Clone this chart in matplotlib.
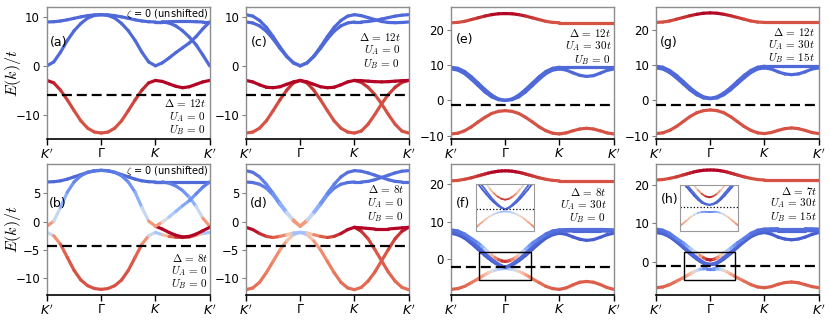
import numpy as np
import matplotlib
matplotlib.use("Agg")
import matplotlib.pyplot as plt
from matplotlib.collections import LineCollection
from matplotlib.patches import Rectangle

# k path K' - Gamma - K - K'
k = np.linspace(0, 3, 25)
kf = np.concatenate([np.linspace(0, 0.5, 5), np.linspace(0.5625, 1.4375, 15), np.linspace(1.5, 3, 13)])
k_edge = k[16:]
k_labels = [r"$K'$", r"$\Gamma$", r"$K$", r"$K'$"]

# ---- (a) zeta = 0, Delta = 12t
a_blue1 = [9.0, 9.05, 9.2, 9.45, 9.75, 10.05, 10.3, 10.45, 10.5, 10.45, 10.3, 10.05, 9.75, 9.45, 9.2, 9.05, 9.0,
           9.0, 9.05, 9.1, 9.1, 9.1, 9.05, 9.0, 9.0]
a_blue2 = [0.0, 0.8, 2.8, 5.2, 7.2, 8.7, 9.8, 10.35, 10.5, 10.35, 9.8, 8.7, 7.2, 5.2, 2.8, 0.8, 0.0,
           0.6, 1.6, 2.7, 3.7, 4.7, 6.0, 7.6, 9.0]
a_blue3 = [9.0, 9.0, 8.8, 8.2, 7.2, 5.9, 4.3, 2.2, 0.0]
a_red = [-3.0, -3.5, -5.0, -7.0, -9.2, -11.3, -12.8, -13.6, -13.8, -13.6, -12.8, -11.3, -9.2, -7.0, -5.0, -3.5, -3.0,
         -3.2, -3.7, -4.2, -4.5, -4.3, -3.8, -3.3, -3.0]
a_red_w = [1.0, 0.98, 0.95, 0.93, 0.91, 0.9, 0.9, 0.9, 0.9, 0.9, 0.9, 0.9, 0.91, 0.93, 0.95, 0.98, 1.0,
           1.0, 1.0, 1.0, 1.0, 1.0, 1.0, 1.0, 1.0]

# ---- (c) shifted, Delta = 12t
c_blue1 = [10.5, 10.2, 9.3, 7.9, 6.0, 3.9, 2.0, 0.6, 0.0, 0.6, 2.0, 3.9, 6.0, 7.9, 9.3, 10.2, 10.5,
           10.3, 9.9, 9.5, 9.1, 8.9, 8.85, 8.9, 9.0]
c_blue2 = [9.0, 8.8, 8.2, 7.1, 5.5, 3.6, 1.9, 0.6, 0.0, 0.6, 1.9, 3.6, 5.5, 7.1, 8.2, 8.8, 9.0,
           9.0, 9.1, 9.3, 9.6, 9.9, 10.2, 10.4, 10.5]
c_red1 = [-3.0, -3.3, -3.9, -4.4, -4.5, -4.3, -3.8, -3.3, -3.0, -3.3, -3.8, -4.3, -4.5, -4.4, -3.9, -3.3, -3.0,
          -3.05, -3.15, -3.25, -3.3, -3.25, -3.15, -3.05, -3.0]
c_red2 = [-13.8, -13.6, -12.8, -11.3, -9.2, -7.0, -5.0, -3.5, -3.0, -3.5, -5.0, -7.0, -9.2, -11.3, -12.8, -13.6, -13.8,
          -13.4, -12.0, -10.0, -7.8, -5.9, -4.4, -3.4, -3.0]
c_red2_w = [0.9, 0.9, 0.9, 0.9, 0.9, 0.92, 0.94, 0.96, 0.97, 0.96, 0.94, 0.92, 0.9, 0.9, 0.9, 0.9, 0.9,
            0.9, 0.9, 0.9, 0.9, 0.92, 0.94, 0.96, 0.97]
c_red3 = [-3.0, -3.4, -4.4, -5.9, -7.8, -10.0, -12.0, -13.4, -13.8]
c_red3_w = [0.97, 0.96, 0.94, 0.92, 0.9, 0.9, 0.9, 0.9, 0.9]

# ---- (e) Delta = 12t, U_A = 30t
top_w25 = [0.9, 0.9, 0.91, 0.93, 0.95, 0.97, 0.99, 1.0, 1.0, 1.0, 0.99, 0.97, 0.95, 0.93, 0.91, 0.9, 0.9,
           0.9, 0.9, 0.9, 0.9, 0.9, 0.9, 0.9, 0.9]
e_top = [22.0, 22.1, 22.4, 22.9, 23.4, 23.9, 24.3, 24.55, 24.6, 24.55, 24.3, 23.9, 23.4, 22.9, 22.4, 22.1, 22.0,
         22.0, 22.0, 22.0, 22.0, 22.0, 22.0, 22.0, 22.0]
e_blue1 = [9.4, 9.1, 8.2, 6.7, 4.9, 3.1, 1.5, 0.4, 0.0, 0.4, 1.5, 3.1, 4.9, 6.7, 8.2, 9.1, 9.4,
           9.4, 9.4, 9.4, 9.4, 9.4, 9.4, 9.4, 9.4]
e_blue2 = [8.9, 8.6, 7.6, 6.0, 4.2, 2.4, 1.0, 0.2, 0.0, 0.2, 1.0, 2.4, 4.2, 6.0, 7.6, 8.6, 8.9,
           8.6, 7.8, 7.1, 6.8, 7.0, 7.7, 8.5, 8.9]
e_red = [-9.5, -9.3, -8.6, -7.5, -6.1, -4.8, -3.7, -3.1, -2.9, -3.1, -3.7, -4.8, -6.1, -7.5, -8.6, -9.3, -9.5,
         -9.2, -8.6, -8.1, -7.9, -8.1, -8.6, -9.2, -9.5]

# ---- (g) Delta = 12t, U_A = 30t, U_B = 15t
g_top = [22.1, 22.2, 22.5, 23.0, 23.5, 24.0, 24.4, 24.7, 24.8, 24.7, 24.4, 24.0, 23.5, 23.0, 22.5, 22.2, 22.1,
         22.1, 22.1, 22.1, 22.1, 22.1, 22.1, 22.1, 22.1]
g_blue1 = [9.7, 9.4, 8.5, 7.1, 5.4, 3.6, 2.1, 1.0, 0.6, 1.0, 2.1, 3.6, 5.4, 7.1, 8.5, 9.4, 9.7,
           9.7, 9.7, 9.7, 9.7, 9.7, 9.7, 9.7, 9.7]
g_blue2 = [9.2, 8.9, 7.9, 6.4, 4.7, 3.0, 1.6, 0.7, 0.5, 0.7, 1.6, 3.0, 4.7, 6.4, 7.9, 8.9, 9.2,
           8.9, 8.1, 7.5, 7.3, 7.5, 8.1, 8.9, 9.2]
g_red = [-9.4, -9.2, -8.5, -7.4, -6.0, -4.6, -3.5, -2.9, -2.7, -2.9, -3.5, -4.6, -6.0, -7.4, -8.5, -9.2, -9.4,
         -9.1, -8.5, -8.0, -7.8, -8.0, -8.5, -9.1, -9.4]

# ---- (b) zeta = 0, Delta = 8t
b_blue1 = [7.0, 7.05, 7.2, 7.5, 7.9, 8.3, 8.7, 8.95, 9.05, 8.95, 8.7, 8.3, 7.9, 7.5, 7.2, 7.05, 7.0,
           7.0, 7.0, 7.0, 7.0, 7.0, 7.0, 7.0, 7.0]
b_blue3 = [7.0, 7.0, 6.8, 6.3, 5.5, 4.3, 2.7, 0.6, -0.8]
b_blue3_w = [0.08, 0.08, 0.1, 0.12, 0.15, 0.2, 0.3, 0.55, 0.95]
b_up = [-0.8, 0.1, 2.5, 5.2, 7.0, 8.1, 8.7, 9.0, 9.05, 9.0, 8.7, 8.1, 7.0, 5.2, 2.5, 0.1, -0.8,
        -0.1, 0.8, 1.8, 2.8, 3.7, 4.9, 6.1, 7.0]
b_up_w = [0.95, 0.55, 0.3, 0.2, 0.15, 0.12, 0.1, 0.1, 0.1, 0.1, 0.1, 0.12, 0.15, 0.2, 0.3, 0.55, 0.95,
          0.55, 0.4, 0.3, 0.25, 0.2, 0.15, 0.12, 0.1]
b_low = [-1.9, -2.5, -4.0, -6.3, -8.6, -10.3, -11.3, -11.8, -11.95, -11.8, -11.3, -10.3, -8.6, -6.3, -4.0, -2.5, -1.9,
         -2.3, -2.6, -2.75, -2.8, -2.7, -2.4, -2.1, -1.9]
b_low_w = [0.15, 0.7, 0.85, 0.88, 0.9, 0.9, 0.9, 0.9, 0.9, 0.9, 0.9, 0.9, 0.9, 0.88, 0.85, 0.7, 0.15,
           0.5, 0.8, 0.9, 0.95, 0.9, 0.8, 0.5, 0.15]
b_red2 = [-0.8, -1.3, -1.9, -2.4, -2.7, -2.6, -2.2, -1.6, -1.0]

# ---- (d) shifted, Delta = 8t
d_v1 = [9.0, 8.7, 7.9, 6.6, 5.0, 3.3, 1.7, 0.3, -0.8, 0.3, 1.7, 3.3, 5.0, 6.6, 7.9, 8.7, 9.0,
        8.9, 8.6, 8.2, 7.8, 7.4, 7.1, 7.0, 7.0]
d_v2 = [7.0, 6.9, 6.6, 5.9, 4.7, 3.0, 1.5, 0.1, -0.8, 0.1, 1.5, 3.0, 4.7, 5.9, 6.6, 6.9, 7.0,
        7.0, 7.1, 7.4, 7.8, 8.2, 8.6, 8.9, 9.0]
d_v_w = [0.08, 0.08, 0.1, 0.12, 0.15, 0.2, 0.3, 0.55, 0.95, 0.55, 0.3, 0.2, 0.15, 0.12, 0.1, 0.08, 0.08,
         0.08, 0.08, 0.08, 0.08, 0.08, 0.08, 0.08, 0.08]
d_wave = [-1.0, -1.4, -2.1, -2.6, -2.8, -2.6, -2.3, -2.0, -1.9, -2.0, -2.3, -2.6, -2.8, -2.6, -2.1, -1.4, -1.0,
          -1.1, -1.2, -1.3, -1.3, -1.3, -1.2, -1.1, -1.0]
d_wave_w = [1.0, 1.0, 0.97, 0.93, 0.9, 0.85, 0.75, 0.5, 0.12, 0.5, 0.75, 0.85, 0.9, 0.93, 0.97, 1.0, 1.0,
            1.0, 1.0, 1.0, 1.0, 1.0, 1.0, 1.0, 1.0]
d_arm1 = [-12.0, -11.7, -10.7, -9.0, -7.0, -5.0, -3.4, -2.3, -1.9, -2.3, -3.4, -5.0, -7.0, -9.0, -10.7, -11.7, -12.0,
          -11.6, -10.5, -8.9, -6.9, -4.9, -3.0, -1.7, -1.0]
d_arm1_w = [0.85, 0.85, 0.84, 0.82, 0.8, 0.77, 0.72, 0.55, 0.12, 0.55, 0.72, 0.77, 0.8, 0.82, 0.84, 0.85, 0.85,
            0.85, 0.86, 0.87, 0.88, 0.9, 0.93, 0.96, 1.0]
d_arm2 = [-1.0, -1.7, -3.0, -4.9, -6.9, -8.9, -10.5, -11.6, -12.0]
d_arm2_w = [1.0, 0.96, 0.93, 0.9, 0.88, 0.87, 0.86, 0.85, 0.85]

# ---- (f) Delta = 8t, U_A = 30t  (finer k grid near Gamma)
top_w33 = [0.9, 0.9, 0.91, 0.93, 0.95, 0.96, 0.97, 0.98, 0.99, 1.0, 1.0, 1.0, 1.0,
           1.0, 1.0, 1.0, 0.99, 0.98, 0.97, 0.96, 0.95, 0.93, 0.91, 0.9, 0.9,
           0.9, 0.9, 0.9, 0.9, 0.9, 0.9, 0.9, 0.9]
f_top = [20.8, 20.9, 21.2, 21.6, 22.1, 22.35, 22.6, 22.85, 23.05, 23.2, 23.35, 23.42, 23.45,
         23.42, 23.35, 23.2, 23.05, 22.85, 22.6, 22.35, 22.1, 21.6, 21.2, 20.9, 20.8,
         20.8, 20.8, 20.8, 20.8, 20.8, 20.8, 20.8, 20.8]
f_v1 = [7.8, 7.5, 6.7, 5.5, 4.3, 3.5, 2.7, 1.9, 1.1, 0.4, -0.1, -0.45, -0.6,
        -0.45, -0.1, 0.4, 1.1, 1.9, 2.7, 3.5, 4.3, 5.5, 6.7, 7.5, 7.8,
        7.85, 7.9, 7.9, 7.9, 7.9, 7.9, 7.85, 7.8]
f_v1_w = [0.08, 0.08, 0.1, 0.12, 0.15, 0.2, 0.3, 0.45, 0.6, 0.75, 0.85, 0.92, 0.96,
          0.92, 0.85, 0.75, 0.6, 0.45, 0.3, 0.2, 0.15, 0.12, 0.1, 0.08, 0.08,
          0.08, 0.08, 0.08, 0.08, 0.08, 0.08, 0.08, 0.08]
f_v2 = [6.9, 6.5, 5.6, 4.2, 2.6, 1.8, 1.0, 0.3, -0.4, -1.0, -1.5, -1.9, -2.1,
        -1.9, -1.5, -1.0, -0.4, 0.3, 1.0, 1.8, 2.6, 4.2, 5.6, 6.5, 6.9,
        6.6, 5.9, 5.3, 5.0, 5.2, 5.8, 6.5, 6.9]
f_v3 = [7.4, 7.0, 6.2, 4.9, 3.3, 2.5, 1.6, 0.8, 0.0, -0.7, -1.3, -1.8, -2.1,
        -1.8, -1.3, -0.7, 0.0, 0.8, 1.6, 2.5, 3.3, 4.9, 6.2, 7.0, 7.4,
        7.45, 7.5, 7.5, 7.5, 7.5, 7.5, 7.45, 7.4]
f_low = [-8.0, -7.8, -7.2, -6.2, -5.2, -4.6, -4.1, -3.6, -3.2, -2.9, -2.65, -2.5, -2.45,
         -2.5, -2.65, -2.9, -3.2, -3.6, -4.1, -4.6, -5.2, -6.2, -7.2, -7.8, -8.0,
         -7.6, -6.8, -6.1, -5.9, -6.1, -6.7, -7.5, -8.0]
f_low_w = [0.88, 0.88, 0.86, 0.84, 0.8, 0.76, 0.7, 0.62, 0.55, 0.45, 0.38, 0.32, 0.3,
           0.32, 0.38, 0.45, 0.55, 0.62, 0.7, 0.76, 0.8, 0.84, 0.86, 0.88, 0.88,
           0.88, 0.88, 0.88, 0.88, 0.88, 0.88, 0.88, 0.88]

# ---- (h) Delta = 7t, U_A = 30t, U_B = 15t
h_top = [21.3, 21.4, 21.7, 22.1, 22.6, 22.85, 23.1, 23.35, 23.55, 23.7, 23.82, 23.88, 23.9,
         23.88, 23.82, 23.7, 23.55, 23.35, 23.1, 22.85, 22.6, 22.1, 21.7, 21.4, 21.3,
         21.3, 21.3, 21.3, 21.3, 21.3, 21.3, 21.3, 21.3]
h_v1 = [8.5, 8.2, 7.4, 6.1, 4.9, 4.2, 3.5, 2.9, 2.3, 1.6, 1.0, 0.6, 0.45,
        0.6, 1.0, 1.6, 2.3, 2.9, 3.5, 4.2, 4.9, 6.1, 7.4, 8.2, 8.5,
        8.55, 8.6, 8.6, 8.6, 8.6, 8.6, 8.55, 8.5]
h_v1_w = [0.08, 0.08, 0.1, 0.12, 0.15, 0.2, 0.28, 0.38, 0.5, 0.68, 0.85, 0.95, 1.0,
          0.95, 0.85, 0.68, 0.5, 0.38, 0.28, 0.2, 0.15, 0.12, 0.1, 0.08, 0.08,
          0.08, 0.08, 0.08, 0.08, 0.08, 0.08, 0.08, 0.08]
h_v2 = [7.6, 7.3, 6.5, 5.2, 3.7, 2.9, 2.1, 1.4, 0.7, 0.1, -0.4, -0.65, -0.75,
        -0.65, -0.4, 0.1, 0.7, 1.4, 2.1, 2.9, 3.7, 5.2, 6.5, 7.3, 7.6,
        7.2, 6.4, 5.9, 5.7, 5.9, 6.4, 7.1, 7.6]
h_v3 = [8.0, 7.7, 6.9, 5.6, 4.1, 3.3, 2.5, 1.8, 1.1, 0.4, -0.2, -0.55, -0.7,
        -0.55, -0.2, 0.4, 1.1, 1.8, 2.5, 3.3, 4.1, 5.6, 6.9, 7.7, 8.0,
        8.05, 8.1, 8.1, 8.1, 8.1, 8.1, 8.05, 8.0]
h_low = [-6.8, -6.6, -6.0, -5.1, -4.2, -3.7, -3.2, -2.7, -2.3, -2.0, -1.85, -1.8, -1.8,
         -1.8, -1.85, -2.0, -2.3, -2.7, -3.2, -3.7, -4.2, -5.1, -6.0, -6.6, -6.8,
         -6.5, -5.9, -5.45, -5.3, -5.5, -6.0, -6.5, -6.8]
h_low_w = [0.88, 0.88, 0.86, 0.84, 0.8, 0.75, 0.68, 0.6, 0.5, 0.35, 0.22, 0.15, 0.12,
           0.15, 0.22, 0.35, 0.5, 0.6, 0.68, 0.75, 0.8, 0.84, 0.86, 0.88, 0.88,
           0.88, 0.88, 0.88, 0.88, 0.88, 0.88, 0.88, 0.88]

BLUE = 0.07
RED = 0.9
DARK = 1.0

cmap = plt.get_cmap("coolwarm")


def add_band(ax, x, y, w, lw=2.3):
    y = np.asarray(y, float)
    w = np.broadcast_to(np.asarray(w, float), y.shape)
    pts = np.column_stack([x, y])
    segs = np.stack([pts[:-1], pts[1:]], axis=1)
    lc = LineCollection(segs, colors=cmap(0.5 * (w[:-1] + w[1:])), linewidths=lw,
                        capstyle="round", joinstyle="round", zorder=2)
    ax.add_collection(lc)


def setup(ax, ylim, yticks, fermi):
    ax.set_xlim(0, 3)
    ax.set_ylim(*ylim)
    ax.set_xticks([0, 1, 2, 3])
    ax.set_xticklabels(k_labels, fontsize=9)
    ax.set_yticks(yticks)
    ax.tick_params(axis="y", labelsize=8.5, length=3, width=0.8, color="0.5", pad=2)
    ax.tick_params(axis="x", length=4, width=1, color="k", pad=2)
    for s in ["left", "top", "right"]:
        ax.spines[s].set_color("0.55")
        ax.spines[s].set_linewidth(1.0)
    ax.spines["bottom"].set_color("k")
    ax.spines["bottom"].set_linewidth(1.2)
    ax.axhline(fermi, color="k", ls=(0, (4.5, 2.2)), lw=1.6, zorder=3)


def params(ax, lines, ys, x):
    for s, y in zip(lines, ys):
        ax.text(x, y, s, transform=ax.transAxes, ha="right", va="center",
                fontsize=8, math_fontfamily="cm", zorder=5)


fig = plt.figure(figsize=(8.3, 3.2), dpi=100)
W, H1, H2 = 0.196, 0.4125, 0.41
xs = [0.0566, 0.2964, 0.5434, 0.7904]
ax_a = fig.add_axes([xs[0], 0.566, W, H1])
ax_c = fig.add_axes([xs[1], 0.566, W, H1])
ax_e = fig.add_axes([xs[2], 0.566, W, H1])
ax_g = fig.add_axes([xs[3], 0.566, W, H1])
ax_b = fig.add_axes([xs[0], 0.078, W, H2])
ax_d = fig.add_axes([xs[1], 0.078, W, H2])
ax_f = fig.add_axes([xs[2], 0.078, W, H2])
ax_h = fig.add_axes([xs[3], 0.078, W, H2])

bands = {
    ax_a: [(k, a_blue1, BLUE), (k, a_blue2, BLUE), (k_edge, a_blue3, BLUE), (k, a_red, a_red_w)],
    ax_c: [(k, c_blue1, BLUE), (k, c_blue2, BLUE), (k, c_red2, c_red2_w), (k_edge, c_red3, c_red3_w),
           (k, c_red1, DARK)],
    ax_e: [(k, e_top, top_w25), (k, e_blue1, BLUE), (k, e_blue2, BLUE), (k, e_red, RED)],
    ax_g: [(k, g_top, top_w25), (k, g_blue1, BLUE), (k, g_blue2, BLUE), (k, g_red, RED)],
    ax_b: [(k, b_blue1, BLUE), (k_edge, b_blue3, b_blue3_w), (k, b_low, b_low_w),
           (k_edge, b_red2, DARK), (k, b_up, b_up_w)],
    ax_d: [(k, d_arm1, d_arm1_w), (k_edge, d_arm2, d_arm2_w), (k, d_wave, d_wave_w),
           (k, d_v2, d_v_w), (k, d_v1, d_v_w)],
    ax_f: [(kf, f_top, top_w33), (kf, f_low, f_low_w), (kf, f_v2, 0.04), (kf, f_v3, BLUE), (kf, f_v1, f_v1_w)],
    ax_h: [(kf, h_top, top_w33), (kf, h_low, h_low_w), (kf, h_v2, 0.04), (kf, h_v3, BLUE), (kf, h_v1, h_v1_w)],
}
for ax, bl in bands.items():
    for x, y, w in bl:
        add_band(ax, x, y, w)

setup(ax_a, (-15, 12.1), [-10, 0, 10], -6.0)
setup(ax_c, (-15, 12.1), [-10, 0, 10], -6.0)
setup(ax_e, (-10.9, 26.5), [-10, 0, 10, 20], -1.4)
setup(ax_g, (-10.9, 26.5), [-10, 0, 10, 20], -1.25)
setup(ax_b, (-12.95, 10.2), [-10, -5, 0, 5], -4.3)
setup(ax_d, (-12.95, 10.2), [-10, -5, 0, 5], -4.3)
setup(ax_f, (-9.5, 25.3), [0, 10, 20], -2.1)
setup(ax_h, (-8.7, 25.5), [0, 10, 20], -1.05)

for ax in (ax_a, ax_b):
    ax.set_ylabel(r"$E(k)/t$", fontsize=11.5, math_fontfamily="cm")
    ax.yaxis.set_label_coords(-0.148, 0.5)
    ax.text(0.995, 0.945, r"$\zeta$ = 0 (unshifted)", transform=ax.transAxes, ha="right", va="center",
            fontsize=7, math_fontfamily="cm", zorder=5)

for ax, lab, x, y in [(ax_a, "(a)", 0.02, 0.727), (ax_c, "(c)", 0.03, 0.727), (ax_e, "(e)", 0.03, 0.75),
                      (ax_g, "(g)", 0.025, 0.727), (ax_b, "(b)", 0.012, 0.70), (ax_d, "(d)", 0.025, 0.70),
                      (ax_f, "(f)", 0.03, 0.70), (ax_h, "(h)", 0.03, 0.725)]:
    ax.text(x, y, lab, transform=ax.transAxes, ha="left", va="center", fontsize=9)

params(ax_a, [r"$\Delta\,=\,12t$", r"$U_A\,=\,0$", r"$U_B\,=\,0$"], [0.275, 0.167, 0.068], 0.975)
params(ax_c, [r"$\Delta\,=\,12t$", r"$U_A\,=\,0$", r"$U_B\,=\,0$"], [0.775, 0.674, 0.568], 0.95)
params(ax_e, [r"$\Delta\,=\,12t$", r"$U_A\,=\,30t$", r"$U_B\,=\,0$"], [0.80, 0.70, 0.60], 0.985)
params(ax_g, [r"$\Delta\,=\,12t$", r"$U_A\,=\,30t$", r"$U_B\,=\,15t$"], [0.813, 0.712, 0.611], 0.975)
params(ax_b, [r"$\Delta\,=\,8t$", r"$U_A\,=\,0$", r"$U_B\,=\,0$"], [0.285, 0.185, 0.084], 0.99)
params(ax_d, [r"$\Delta\,=\,8t$", r"$U_A\,=\,0$", r"$U_B\,=\,0$"], [0.807, 0.70, 0.598], 0.97)
params(ax_f, [r"$\Delta\,=\,8t$", r"$U_A\,=\,30t$", r"$U_B\,=\,0$"], [0.789, 0.687, 0.585], 0.955)
params(ax_h, [r"$\Delta\,=\,7t$", r"$U_A\,=\,30t$", r"$U_B\,=\,15t$"], [0.796, 0.70, 0.598], 0.99)

# zoom insets around Gamma
for ax, box, bounds, fermi in [(ax_f, (0.52, -5.5, 0.95, 7.4), [0.153, 0.489, 0.356, 0.359], -2.1),
                               (ax_h, (0.52, -4.8, 0.94, 7.2), [0.147, 0.489, 0.354, 0.351], -1.05)]:
    x0, y0, bw, bh = box
    ax.add_patch(Rectangle((x0, y0), bw, bh, fill=False, ec="k", lw=1.0, zorder=4))
    ins = ax.inset_axes(bounds)
    for x, y, w in bands[ax]:
        add_band(ins, x, y, w, lw=1.3)
    ins.axhline(fermi, color="k", ls=":", lw=0.9)
    ins.set_xlim(x0, x0 + bw)
    ins.set_ylim(y0, y0 + bh)
    ins.set_xticks([])
    ins.set_yticks([])
    for s in ins.spines.values():
        s.set_color("0.6")
        s.set_linewidth(0.8)

fig.savefig("out.png", dpi=100)
